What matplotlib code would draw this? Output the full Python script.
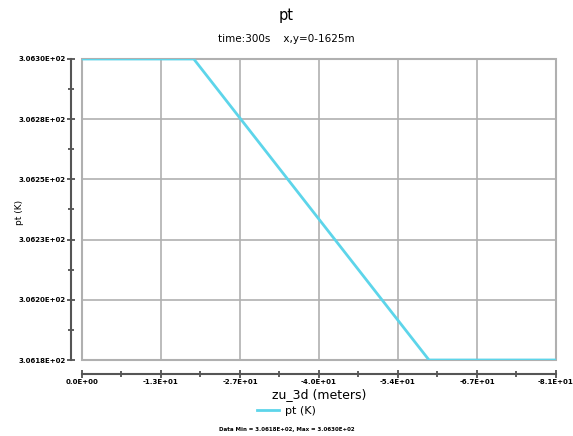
import matplotlib
matplotlib.use('Agg')
import matplotlib.pyplot as plt
from matplotlib.ticker import FixedLocator
from matplotlib.patches import Rectangle

# data
zu = [0.0, -19.1, -59.3, -81.0]
pt = [306.30, 306.30, 306.18, 306.18]

x_ticks = [0, -13.5, -27, -40.5, -54, -67.5, -81]
x_labels = ['0.0E+00', '-1.3E+01', '-2.7E+01', '-4.0E+01', '-5.4E+01', '-6.7E+01', '-8.1E+01']
y_ticks = [306.18, 306.204, 306.228, 306.252, 306.276, 306.30]
y_labels = ['3.0618E+02', '3.0620E+02', '3.0623E+02', '3.0625E+02', '3.0628E+02', '3.0630E+02']

fig = plt.figure(figsize=(5.73, 4.36), dpi=100)
ax = fig.add_axes([0.1431, 0.1743, 0.8272, 0.6904])

line, = ax.plot(zu, pt, color='#5dd5ea', lw=2, label='pt (K)', zorder=3)

ax.set_xlim(0, -81)
ax.set_ylim(306.18, 306.30)

ax.set_xticks(x_ticks)
ax.set_xticklabels(x_labels)
ax.set_yticks(y_ticks)
ax.set_yticklabels(y_labels)
ax.xaxis.set_minor_locator(FixedLocator([-6.75, -20.25, -33.75, -47.25, -60.75, -74.25]))
ax.yaxis.set_minor_locator(FixedLocator([306.192, 306.216, 306.24, 306.264, 306.288]))

ax.grid(True, which='major', color='#b0b0b0', lw=1.2)
ax.set_axisbelow(True)
# grey frame round the plot area
ax.add_patch(Rectangle((0, 0), 1, 1, transform=ax.transAxes, fill=False,
                       edgecolor='#b0b0b0', lw=1.5, clip_on=False, zorder=2))

for s in ['top', 'right']:
    ax.spines[s].set_visible(False)
ax.spines['left'].set_position(('outward', 8))
ax.spines['bottom'].set_position(('outward', 10))
for s in ['left', 'bottom']:
    ax.spines[s].set_color('#555555')
    ax.spines[s].set_linewidth(1.5)

ax.tick_params(which='major', direction='inout', length=6, width=1.2, color='#444444',
               labelsize=5, pad=1)
ax.tick_params(which='minor', direction='inout', length=4, width=1.2, color='#444444')
for lab in ax.get_xticklabels() + ax.get_yticklabels():
    lab.set_fontweight('bold')

ax.set_xlabel('zu_3d (meters)', fontsize=9, labelpad=2)
fig.text(20 / 573, 1 - 212 / 436, 'pt (K)', rotation=90, ha='center', va='center', fontsize=6.5)

fig.text(0.5, 0.965, 'pt', ha='center', va='center', fontsize=10.5)
fig.text(0.5, 0.91, 'time:300s    x,y=0-1625m', ha='center', va='center', fontsize=7.5)

fig.legend(handles=[line], loc='center', bbox_to_anchor=(0.5, 0.058), frameon=False,
           fontsize=8, handlelength=2, handletextpad=0.5)
fig.text(0.5, 0.01, 'Data Min = 3.0618E+02, Max = 3.0630E+02', ha='center', va='bottom',
         fontsize=4, fontweight='bold')

fig.savefig('out.png', dpi=100)
